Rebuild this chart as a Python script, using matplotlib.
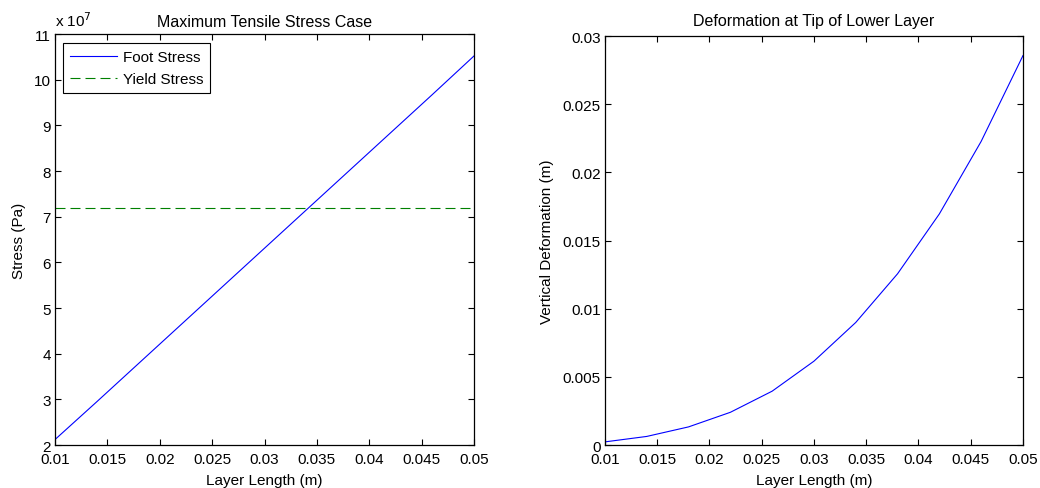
import matplotlib
matplotlib.use('Agg')
import matplotlib.pyplot as plt
from matplotlib.ticker import FuncFormatter

plt.rcParams['font.family'] = ['Liberation Sans', 'DejaVu Sans']
plt.rcParams['font.size'] = 11
plt.rcParams['lines.scale_dashes'] = False

# data
layer_length = [0.010, 0.014, 0.018, 0.022, 0.026, 0.030,
                0.034, 0.038, 0.042, 0.046, 0.050]
foot_stress = [2.12e7, 2.95e7, 3.79e7, 4.63e7, 5.47e7, 6.31e7,
               7.15e7, 7.99e7, 8.83e7, 9.67e7, 10.52e7]
yield_stress = 7.2e7
tip_deformation = [0.00023, 0.00063, 0.00133, 0.00240, 0.00395, 0.00615,
                   0.00899, 0.01256, 0.01695, 0.02227, 0.02856]
x_ticks = [0.01, 0.015, 0.02, 0.025, 0.03, 0.035, 0.04, 0.045, 0.05]
x_ticklabels = ['0.01', '0.015', '0.02', '0.025', '0.03', '0.035', '0.04', '0.045', '0.05']

fig = plt.figure(figsize=(10.4, 4.89), dpi=100)
ax1 = fig.add_axes([0.0529, 0.0879, 0.4029, 0.8405])
ax2 = fig.add_axes([0.5817, 0.0879, 0.4019, 0.8364])


def matlab_style(ax):
    ax.tick_params(direction='in', top=True, right=True, length=4.5,
                   width=0.8, labelsize=11)
    ax.tick_params(axis='x', pad=5)
    ax.tick_params(axis='y', pad=3)
    for s in ax.spines.values():
        s.set_linewidth(0.9)
    ax.set_xticks(x_ticks)
    ax.set_xticklabels(x_ticklabels)
    ax.set_xlim(0.01, 0.05)


# left panel
ax1.plot(layer_length, foot_stress, color='#0000ff', lw=0.8, label='Foot Stress')
ax1.plot([layer_length[0], layer_length[-1]], [yield_stress, yield_stress],
         color='#008000', lw=0.8, dashes=(7.2, 3.6), label='Yield Stress')
matlab_style(ax1)
ax1.set_ylim(2e7, 11e7)
ax1.set_yticks([v * 1e7 for v in range(2, 12)])
ax1.yaxis.set_major_formatter(FuncFormatter(lambda v, p: '%g' % (v / 1e7)))
ax1.text(0.0, 1.012, r'x 10$^{7}$', transform=ax1.transAxes, fontsize=11,
         ha='left', va='bottom')
ax1.set_title('Maximum Tensile Stress Case', fontsize=11.5, pad=6)
ax1.set_xlabel('Layer Length (m)', labelpad=5)
ax1.set_ylabel('Stress (Pa)', labelpad=6)
leg = ax1.legend(loc='upper left', fancybox=False, edgecolor='black',
                 framealpha=1, handlelength=3.1, borderpad=0.45,
                 handletextpad=0.35, labelspacing=0.5, fontsize=11,
                 borderaxespad=0, bbox_to_anchor=(0.019, 0.977))
leg.get_frame().set_linewidth(0.8)

# right panel
ax2.plot(layer_length, tip_deformation, color='#0000ff', lw=0.8)
matlab_style(ax2)
ax2.set_ylim(0, 0.03)
ax2.set_yticks([0, 0.005, 0.01, 0.015, 0.02, 0.025, 0.03])
ax2.set_yticklabels(['0', '0.005', '0.01', '0.015', '0.02', '0.025', '0.03'])
ax2.set_title('Deformation at Tip of Lower Layer', fontsize=11.5, pad=8)
ax2.set_xlabel('Layer Length (m)', labelpad=5)
ax2.set_ylabel('Vertical Deformation (m)', labelpad=6)

fig.savefig('out.png', dpi=100)
